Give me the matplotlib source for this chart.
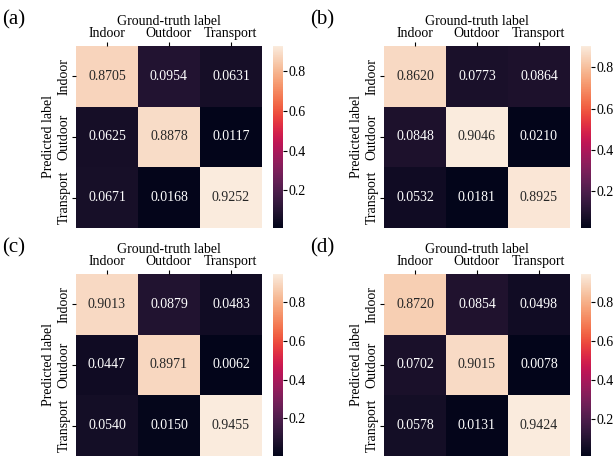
import numpy as np
import matplotlib
matplotlib.use("Agg")
import matplotlib.pyplot as plt
import seaborn as sns

plt.rcParams['font.family'] = ['Liberation Serif', 'DejaVu Serif']

classes = ['Indoor', 'Outdoor', 'Transport']
panel_names = ['(a)', '(b)', '(c)', '(d)']

cm_a = [[0.8705, 0.0954, 0.0631],
        [0.0625, 0.8878, 0.0117],
        [0.0671, 0.0168, 0.9252]]
cm_b = [[0.8620, 0.0773, 0.0864],
        [0.0848, 0.9046, 0.0210],
        [0.0532, 0.0181, 0.8925]]
cm_c = [[0.9013, 0.0879, 0.0483],
        [0.0447, 0.8971, 0.0062],
        [0.0540, 0.0150, 0.9455]]
cm_d = [[0.8720, 0.0854, 0.0498],
        [0.0702, 0.9015, 0.0078],
        [0.0578, 0.0131, 0.9424]]
matrices = [cm_a, cm_b, cm_c, cm_d]

W, H = 614, 457
fig = plt.figure(figsize=(W / 100, H / 100), dpi=100)

# pixel boxes (left, top) for each panel
origins = [(76, 46), (384, 46), (76, 274), (384, 274)]
hw, hh = 186, 182

for name, cm, (x0, y0) in zip(panel_names, matrices, origins):
    ax = fig.add_axes([x0 / W, 1 - (y0 + hh) / H, hw / W, hh / H])
    cax = fig.add_axes([(x0 + 197) / W, 1 - (y0 + hh) / H, 10 / W, hh / H])
    sns.heatmap(np.array(cm), ax=ax, cbar_ax=cax, annot=True, fmt='.4f',
                cmap='rocket', annot_kws={'fontsize': 10},
                xticklabels=classes, yticklabels=classes)
    ax.xaxis.tick_top()
    ax.xaxis.set_label_position('top')
    ax.set_xlabel('Ground-truth label', fontsize=10, labelpad=2)
    ax.set_ylabel('Predicted label', fontsize=10, labelpad=2)
    ax.tick_params(axis='x', labelsize=10, length=3, pad=1, rotation=0)
    ax.tick_params(axis='y', labelsize=10, length=3, pad=1)
    for lbl in ax.get_yticklabels():
        lbl.set_rotation(90)
        lbl.set_va('center')
    cax.tick_params(labelsize=10, length=3, pad=1)
    cax.set_yticks([0.2, 0.4, 0.6, 0.8])
    cax.set_yticklabels(['0.2', '0.4', '0.6', '0.8'])
    fig.text((x0 - 74) / W, 1 - (y0 - 26) / H, name, fontsize=15, va='center', ha='left')

fig.savefig('out.png', dpi=100)
